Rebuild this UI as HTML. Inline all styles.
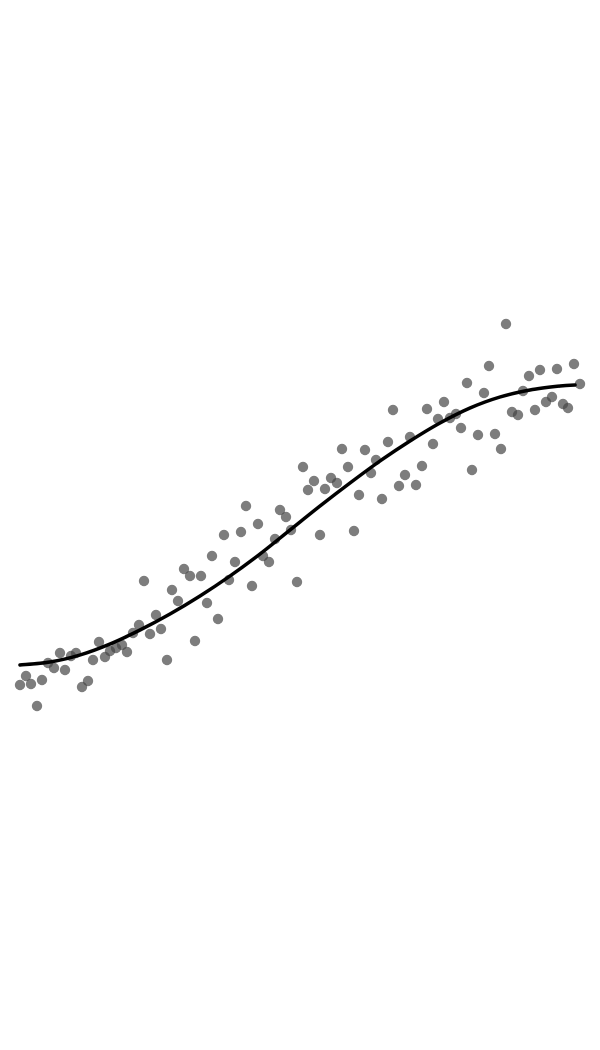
<!DOCTYPE html>
<html><head><meta charset="utf-8"><style>html,body{margin:0;padding:0;background:#fff;width:600px;height:1050px;overflow:hidden}</style></head>
<body>
<svg id="chart" width="600" height="1050" viewBox="0 0 600 1050" xmlns="http://www.w3.org/2000/svg">
<rect width="600" height="1050" fill="#fff"/>
<g id="points"></g>
<path id="fit" fill="none" stroke="#000" stroke-width="3.5" stroke-linejoin="round" stroke-linecap="round"/>
</svg>
<script>
const pointX = [2.0,2.6,3.1,3.7,4.2,4.8,5.4,6.0,6.5,7.1,7.6,8.2,8.8,9.3,9.9,10.5,11.0,11.6,12.2,12.7,13.3,13.9,14.4,15.0,15.6,16.1,16.7,17.2,17.8,18.4,19.0,19.5,20.1,20.7,21.2,21.8,22.4,22.9,23.5,24.1,24.6,25.2,25.8,26.3,26.9,27.5,28.0,28.6,29.1,29.7,30.3,30.8,31.4,32.0,32.5,33.1,33.7,34.2,34.8,35.4,35.9,36.5,37.1,37.6,38.2,38.8,39.3,39.9,40.5,41.0,41.6,42.2,42.7,43.3,43.8,44.4,45.0,45.6,46.1,46.7,47.2,47.8,48.4,48.9,49.5,50.1,50.6,51.2,51.8,52.3,52.9,53.5,54.0,54.6,55.2,55.7,56.3,56.8,57.4,58.0];
const pointY = [3.5,4.4,3.6,1.4,4.0,5.7,5.2,6.7,5.0,6.4,6.7,3.3,3.9,6.0,7.8,6.3,6.9,7.2,7.5,6.8,8.7,9.5,13.9,8.6,10.5,9.1,6.0,13.0,11.9,15.1,14.4,7.9,14.4,11.7,16.4,10.1,18.5,14.0,15.8,18.8,21.4,13.4,19.6,16.4,15.8,18.1,21.0,20.3,19.0,13.8,25.3,23.0,23.9,18.5,23.1,24.2,23.7,27.1,25.3,18.9,22.5,27.0,24.7,26.0,22.1,27.8,31.0,23.4,24.5,28.3,23.5,25.4,31.1,27.6,30.1,31.8,30.2,30.6,29.2,33.7,25.0,28.5,32.7,35.4,28.6,27.1,39.6,30.8,30.5,32.9,34.4,31.0,35.0,31.8,32.3,35.1,31.6,31.2,35.6,33.6];
const curveX = [2,5,8,11,14,17,20,23,26,29,32,35,38,41,44,47,50,53,56,57.5];
const curveY = [5.5,5.8,6.5,7.6,9.0,10.6,12.4,14.4,16.6,19.0,21.4,23.7,25.9,27.9,29.7,31.2,32.3,33.0,33.4,33.5];
function xScale(v){return v*10;}
function yScale(v){return 720 - v*10;}
const NS="http://www.w3.org/2000/svg";
const g=document.getElementById('points');
for(let i=0;i<pointX.length;i++){
  const c=document.createElementNS(NS,'circle');
  c.setAttribute('cx',xScale(pointX[i]));
  c.setAttribute('cy',yScale(pointY[i]));
  c.setAttribute('r',5.2);
  c.setAttribute('fill','rgba(70,70,70,0.7)');
  
  
  g.appendChild(c);
}
const P=curveX.map((x,i)=>[xScale(x),yScale(curveY[i])]);
let d='M'+P[0][0]+','+P[0][1];
for(let i=0;i<P.length-1;i++){
  const p0=P[Math.max(0,i-1)],p1=P[i],p2=P[i+1],p3=P[Math.min(P.length-1,i+2)];
  const c1=[p1[0]+(p2[0]-p0[0])/6,p1[1]+(p2[1]-p0[1])/6];
  const c2=[p2[0]-(p3[0]-p1[0])/6,p2[1]-(p3[1]-p1[1])/6];
  d+=' C'+c1[0]+','+c1[1]+' '+c2[0]+','+c2[1]+' '+p2[0]+','+p2[1];
}
document.getElementById('fit').setAttribute('d',d);
</script>
</body></html>
